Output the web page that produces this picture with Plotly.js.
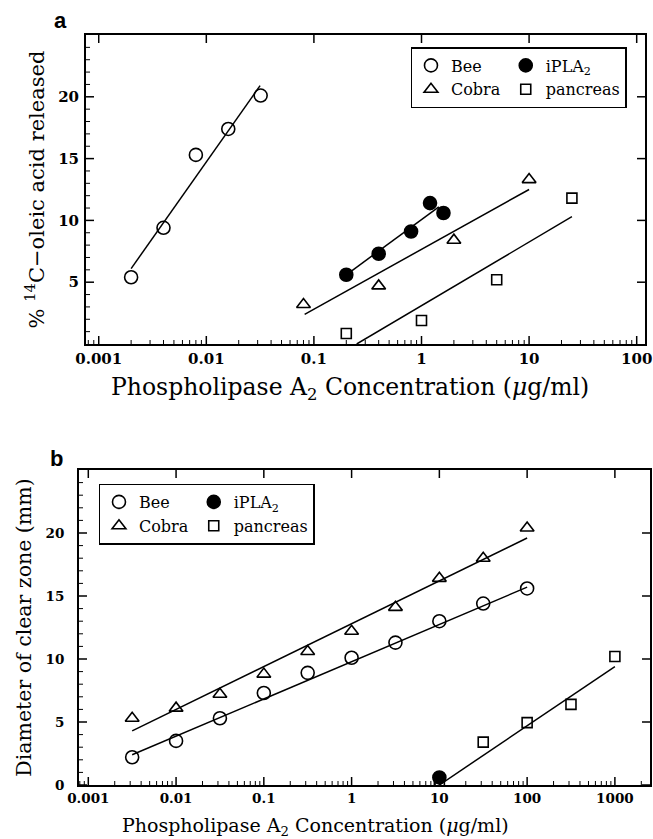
<!DOCTYPE html>
<html>
<head>
<meta charset="utf-8">
<script src="https://cdn.plot.ly/plotly-3.0.1.min.js"></script>
<style>html,body{margin:0;padding:0;background:#fff;}</style>
</head>
<body>
<div id="chart" style="width:653px;height:839px;"></div>
<script>
// ---------- Panel a data ----------
const beeA_x = [0.002, 0.004, 0.008, 0.016, 0.032];
const beeA_y = [5.4, 9.4, 15.3, 17.4, 20.1];
const cobraA_x = [0.08, 0.4, 2, 10];
const cobraA_y = [3.2, 4.7, 8.4, 13.3];
const iplaA_x = [0.2, 0.4, 0.8, 1.2, 1.6];
const iplaA_y = [5.6, 7.3, 9.1, 11.4, 10.6];
const pancA_x = [0.2, 1, 5, 25];
const pancA_y = [0.85, 1.9, 5.2, 11.8];
// fitted lines (end points)
const beeFitA_x = [0.002, 0.0316];
const beeFitA_y = [6.1, 20.9];
const cobraFitA_x = [0.082, 10];
const cobraFitA_y = [2.4, 12.5];
const iplaFitA_x = [0.2, 1.45];
const iplaFitA_y = [5.6, 11.1];
const pancFitA_x = [0.25, 25];
const pancFitA_y = [0, 10.3];

// ---------- Panel b data ----------
const beeB_x = [0.00316, 0.01, 0.0316, 0.1, 0.316, 1, 3.16, 10, 31.6, 100];
const beeB_y = [2.2, 3.5, 5.3, 7.3, 8.9, 10.1, 11.3, 13.0, 14.4, 15.6];
const cobraB_x = [0.00316, 0.01, 0.0316, 0.1, 0.316, 1, 3.16, 10, 31.6, 100];
const cobraB_y = [5.3, 6.1, 7.2, 8.8, 10.6, 12.2, 14.1, 16.4, 18.0, 20.4];
const iplaB_x = [10];
const iplaB_y = [0.6];
const pancB_x = [10, 31.6, 100, 316, 1000];
const pancB_y = [0.1, 3.4, 4.95, 6.4, 10.2];
const beeFitB_x = [0.00316, 100];
const beeFitB_y = [2.4, 15.7];
const cobraFitB_x = [0.00316, 100];
const cobraFitB_y = [4.3, 19.6];
const pancFitB_x = [10, 1000];
const pancFitB_y = [0, 9.4];

// ---------- tick labels ----------
const xTickA = [0.001, 0.01, 0.1, 1, 10, 100];
const xTickTextA = ['0.001', '0.01', '0.1', '1', '10', '100'];
const xTickB = [0.001, 0.01, 0.1, 1, 10, 100, 1000];
const xTickTextB = ['0.001', '0.01', '0.1', '1', '10', '100', '1000'];
const yTickA = [5, 10, 15, 20];
const yTickB = [0, 5, 10, 15, 20];

const SERIF = 'DejaVu Serif';

// ---------- panel geometry ----------
const M = {l: 79, r: 3, t: 35, b: 54};
const W = 653 - M.l - M.r, H = 839 - M.t - M.b;
const domXA = [0.0123, 0.9912], domYA = [0.588, 1.0];
const domXB = [0, 1], domYB = [0, 0.42];
const rangeXA = [-3.118, 2.077], rangeXB = [-3.106, 3.40];
const rangeY = [0, 25];

function pts(x, y, name, sym, size, leg, group, xa, ya) {
  return {
    x: x, y: y, type: 'scatter', mode: 'markers', name: name,
    xaxis: xa, yaxis: ya, legend: leg, legendgroup: group, showlegend: true,
    marker: {symbol: sym, size: size, color: 'black', line: {color: 'black', width: 1.6}}
  };
}
function fit(x, y, group, xa, ya) {
  return {
    x: x, y: y, type: 'scatter', mode: 'lines', xaxis: xa, yaxis: ya,
    legendgroup: group, showlegend: false, hoverinfo: 'skip',
    line: {color: 'black', width: 1.5}
  };
}

// ---------- inward tick marks drawn on the axes' own scales ----------
function logMinor(range) {
  const out = [];
  for (let d = Math.floor(range[0]); d <= Math.ceil(range[1]); d++)
    for (let k = 2; k <= 9; k++) {
      const v = k * Math.pow(10, d);
      if (Math.log10(v) > range[0] && Math.log10(v) < range[1]) out.push(v);
    }
  return out;
}
function linMinor(lo, hi, major) {
  const out = [];
  for (let v = lo + 1; v < hi; v++) if (major.indexOf(v) < 0) out.push(v);
  return out;
}
// ticks on a (log) x axis: lenPx converted to y units
function xTickTrace(vals, lenPx, hPx, both, xa, ya, width) {
  const L = lenPx * (rangeY[1] - rangeY[0]) / hPx;
  const x = [], y = [];
  vals.forEach(v => {
    x.push(v, v, null); y.push(rangeY[0], rangeY[0] + L, null);
    if (both) { x.push(v, v, null); y.push(rangeY[1], rangeY[1] - L, null); }
  });
  return {x: x, y: y, type: 'scatter', mode: 'lines', xaxis: xa, yaxis: ya,
          showlegend: false, hoverinfo: 'skip', line: {color: 'black', width: width}};
}
// ticks on a y axis: lenPx converted to a factor on the log x axis
function yTickTrace(vals, lenPx, wPx, xr, both, xa, ya, width) {
  const fac = Math.pow(10, lenPx * (xr[1] - xr[0]) / wPx);
  const lo = Math.pow(10, xr[0]), hi = Math.pow(10, xr[1]);
  const x = [], y = [];
  vals.forEach(v => {
    x.push(lo, lo * fac, null); y.push(v, v, null);
    if (both) { x.push(hi, hi / fac, null); y.push(v, v, null); }
  });
  return {x: x, y: y, type: 'scatter', mode: 'lines', xaxis: xa, yaxis: ya,
          showlegend: false, hoverinfo: 'skip', line: {color: 'black', width: width}};
}
const wA = W * (domXA[1] - domXA[0]), hA = H * (domYA[1] - domYA[0]);
const wB = W * (domXB[1] - domXB[0]), hB = H * (domYB[1] - domYB[0]);

const data = [
  // tick marks panel a
  xTickTrace(xTickA, 8, hA, true, 'x', 'y', 1.5),
  xTickTrace(logMinor(rangeXA), 4, hA, false, 'x', 'y', 1),
  yTickTrace(yTickA, 8, wA, rangeXA, true, 'x', 'y', 1.5),
  yTickTrace(linMinor(0, 25, yTickA), 4, wA, rangeXA, false, 'x', 'y', 1),
  // tick marks panel b
  xTickTrace(xTickB, 8, hB, true, 'x2', 'y2', 1.5),
  xTickTrace(logMinor(rangeXB), 4, hB, false, 'x2', 'y2', 1),
  yTickTrace(yTickB, 8, wB, rangeXB, true, 'x2', 'y2', 1.5),
  yTickTrace(linMinor(0, 25, yTickB), 4, wB, rangeXB, false, 'x2', 'y2', 1),
  // panel a
  pts(beeA_x, beeA_y, 'Bee', 'circle-open', 13, 'legend', 'g1', 'x', 'y'),
  pts(cobraA_x, cobraA_y, 'Cobra', 'triangle-up-open', 12, 'legend', 'g1', 'x', 'y'),
  pts(iplaA_x, iplaA_y, 'iPLA<sub>2</sub>', 'circle', 13, 'legend', 'g2', 'x', 'y'),
  pts(pancA_x, pancA_y, 'pancreas', 'square-open', 10, 'legend', 'g2', 'x', 'y'),
  fit(beeFitA_x, beeFitA_y, 'g1', 'x', 'y'),
  fit(cobraFitA_x, cobraFitA_y, 'g1', 'x', 'y'),
  fit(iplaFitA_x, iplaFitA_y, 'g2', 'x', 'y'),
  fit(pancFitA_x, pancFitA_y, 'g2', 'x', 'y'),
  // panel b
  pts(beeB_x, beeB_y, 'Bee', 'circle-open', 13, 'legend2', 'h1', 'x2', 'y2'),
  pts(cobraB_x, cobraB_y, 'Cobra', 'triangle-up-open', 12, 'legend2', 'h1', 'x2', 'y2'),
  pts(iplaB_x, iplaB_y, 'iPLA<sub>2</sub>', 'circle', 13, 'legend2', 'h2', 'x2', 'y2'),
  pts(pancB_x, pancB_y, 'pancreas', 'square-open', 10, 'legend2', 'h2', 'x2', 'y2'),
  fit(beeFitB_x, beeFitB_y, 'h1', 'x2', 'y2'),
  fit(cobraFitB_x, cobraFitB_y, 'h1', 'x2', 'y2'),
  fit(pancFitB_x, pancFitB_y, 'h2', 'x2', 'y2')
];

function xAxis(domain, range, anchor, tv, tt, tsize) {
  return {
    type: 'log', domain: domain, range: range, anchor: anchor,
    tickmode: 'array', tickvals: tv, ticktext: tt, ticks: '',
    showline: true, linewidth: 2, linecolor: 'black', mirror: true,
    showgrid: false, zeroline: false,
    tickfont: {family: SERIF, size: tsize, weight: 'bold', color: 'black'}
  };
}
function yAxis(domain, anchor, tv, tsize, title, titleSize, standoff, labStand) {
  return {
    domain: domain, range: rangeY, anchor: anchor,
    tickmode: 'array', tickvals: tv, ticks: '',
    showline: true, linewidth: 2, linecolor: 'black', mirror: true,
    showgrid: false, zeroline: false, ticklabelstandoff: labStand,
    tickfont: {family: SERIF, size: tsize, weight: 'bold', color: 'black'},
    title: {text: title, font: {family: SERIF, size: titleSize, color: 'black'}, standoff: standoff}
  };
}

const xTitle = 'Phospholipase A<sub>2</sub> Concentration (<i>μ</i>g/ml)';

const layout = {
  width: 653, height: 839,
  margin: M,
  font: {family: SERIF, color: 'black'},
  xaxis: xAxis(domXA, rangeXA, 'y', xTickA, xTickTextA, 15),
  yaxis: yAxis(domYA, 'x', yTickA, 15, '% <sup>14</sup>C−oleic acid released', 21, 8, 2),
  xaxis2: xAxis(domXB, rangeXB, 'y2', xTickB, xTickTextB, 13.5),
  yaxis2: yAxis(domYB, 'x2', yTickB, 13.5, 'Diameter of clear zone (mm)', 20.5, 8, 10),
  legend: {
    x: 0.5814, y: 0.984, xanchor: 'left', yanchor: 'top', orientation: 'h',
    traceorder: 'grouped', tracegroupgap: 5,
    bordercolor: 'black', borderwidth: 1.5, bgcolor: 'white',
    font: {family: SERIF, size: 16, color: 'black'}
  },
  legend2: {
    x: 0.035, y: 0.402, xanchor: 'left', yanchor: 'top', orientation: 'h',
    traceorder: 'grouped', tracegroupgap: 5,
    bordercolor: 'black', borderwidth: 1.5, bgcolor: 'white',
    font: {family: SERIF, size: 16, color: 'black'}
  },
  annotations: [
    {text: '<b>a</b>', xref: 'paper', yref: 'paper', x: -0.033, y: 1.019,
     xanchor: 'center', yanchor: 'middle', showarrow: false,
     font: {family: 'Liberation Sans', size: 22, color: 'black'}},
    {text: '<b>b</b>', xref: 'paper', yref: 'paper', x: -0.04, y: 0.436,
     xanchor: 'center', yanchor: 'middle', showarrow: false,
     font: {family: 'Liberation Sans', size: 22, color: 'black'}},
    {text: xTitle, xref: 'paper', yref: 'paper', x: (350 - 79) / 571, y: (785 - 388) / 750,
     xanchor: 'center', yanchor: 'middle', showarrow: false,
     font: {family: SERIF, size: 23.5, color: 'black'}},
    {text: xTitle, xref: 'paper', yref: 'paper', x: (315 - 79) / 571, y: (785 - 826) / 750,
     xanchor: 'center', yanchor: 'middle', showarrow: false,
     font: {family: SERIF, size: 19, color: 'black'}}
  ],
  showlegend: true
};

Plotly.newPlot('chart', data, layout, {displayModeBar: false});
</script>
</body>
</html>
